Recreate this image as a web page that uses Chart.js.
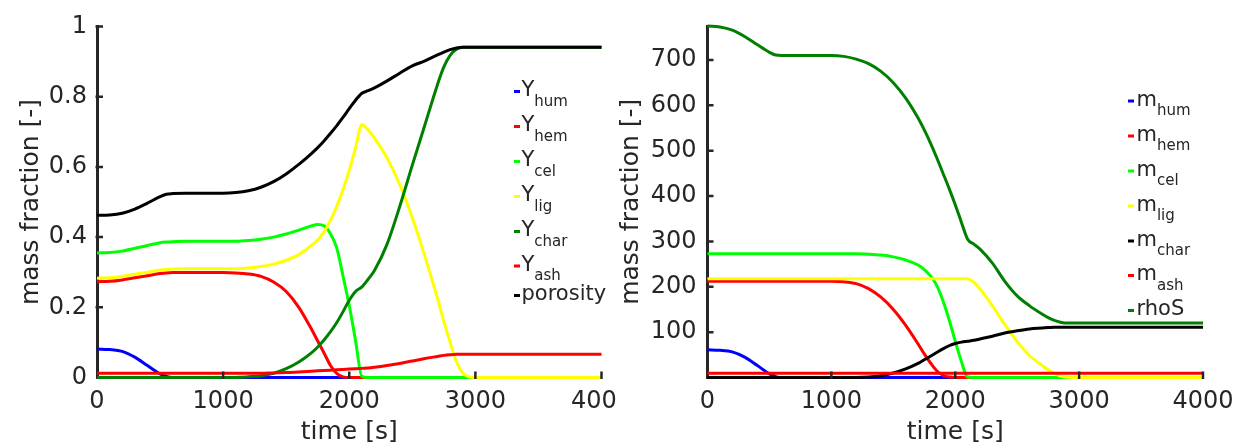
<!DOCTYPE html>
<html><head><meta charset="utf-8">
<script src="https://cdn.jsdelivr.net/npm/chart.js@4.4.0/dist/chart.umd.min.js"></script>
<style>
html,body{margin:0;padding:0;background:#fff;overflow:hidden;}
#wrap{position:relative;width:1239px;height:445px;background:#fff;}
.box{position:absolute;top:0;height:445px;}
</style></head><body>
<div id="wrap">
<div class="box" style="left:0;width:616px"><canvas id="c1" width="616" height="445"></canvas></div>
<div class="box" style="left:616px;width:623px"><canvas id="c2" width="623" height="445"></canvas></div>
</div>
<script>
// ---------- data ----------
const time = [0,100,200,300,400,500,550,600,700,800,900,1000,1100,1200,1300,1400,1500,1600,1700,1750,1800,1850,1900,1950,2000,2050,2100,2150,2200,2300,2400,2500,2600,2700,2750,2800,2850,2900,2950,3000,3500,4000];

// left panel: mass fractions
const Y_hum = [0.081,0.0795,0.0745,0.058,0.034,0.01,0.003,0,0,0,0,0,0,0,0,0,0,0,0,0,0,0,0,0,0,0,0,0,0,0,0,0,0,0,0,0,0,0,0,0,0,0];
const Y_hem = [0.273,0.274,0.278,0.284,0.29,0.296,0.298,0.299,0.299,0.299,0.299,0.299,0.298,0.295,0.288,0.272,0.245,0.2,0.138,0.104,0.07,0.035,0.012,0.002,0,0,0,0,0,0,0,0,0,0,0,0,0,0,0,0,0,0];
const Y_cel = [0.355,0.356,0.36,0.368,0.376,0.384,0.386,0.387,0.388,0.388,0.388,0.388,0.388,0.39,0.394,0.4,0.409,0.42,0.432,0.436,0.432,0.41,0.37,0.29,0.205,0.105,0.003,0,0,0,0,0,0,0,0,0,0,0,0,0,0,0];
const Y_lig = [0.283,0.284,0.288,0.294,0.3,0.306,0.308,0.309,0.31,0.31,0.31,0.31,0.31,0.312,0.316,0.323,0.334,0.35,0.376,0.392,0.415,0.447,0.487,0.535,0.59,0.655,0.72,0.705,0.682,0.625,0.55,0.455,0.345,0.225,0.16,0.1,0.045,0.013,0.002,0,0,0];
const Y_char = [0,0,0,0,0,0,0,0,0,0,0,0,0,0.002,0.005,0.012,0.025,0.044,0.07,0.087,0.107,0.13,0.156,0.187,0.22,0.245,0.258,0.28,0.305,0.38,0.487,0.605,0.72,0.835,0.885,0.918,0.935,0.941,0.941,0.941,0.941,0.941];
const Y_ash = [0.012,0.012,0.012,0.012,0.012,0.012,0.012,0.012,0.012,0.012,0.012,0.012,0.012,0.012,0.012,0.013,0.014,0.016,0.018,0.019,0.02,0.021,0.022,0.023,0.024,0.025,0.026,0.027,0.029,0.034,0.04,0.047,0.054,0.06,0.063,0.065,0.066,0.066,0.066,0.066,0.066,0.066];
const porosity = [0.462,0.463,0.468,0.48,0.497,0.515,0.522,0.524,0.525,0.525,0.525,0.525,0.527,0.532,0.542,0.558,0.58,0.607,0.638,0.655,0.674,0.695,0.717,0.741,0.766,0.79,0.81,0.817,0.825,0.845,0.867,0.888,0.902,0.919,0.927,0.934,0.939,0.941,0.941,0.941,0.941,0.941];

// right panel: masses
const m_hum = [61,60,56.5,45,27,8,2,0,0,0,0,0,0,0,0,0,0,0,0,0,0,0,0,0,0,0,0,0,0,0,0,0,0,0,0,0,0,0,0,0,0,0];
const m_hem = [212,212,212,212,212,212,212,212,212,212,212,212,211,207,196,177,150,115,74,52,32,15,5,1,0,0,0,0,0,0,0,0,0,0,0,0,0,0,0,0,0,0];
const m_cel = [273,273,273,273,273,273,273,273,273,273,273,273,273,273,272,270,266,259,248,238,224,203,170,128,80,35,1,0,0,0,0,0,0,0,0,0,0,0,0,0,0,0];
const m_lig = [218,218,218,218,218,218,218,218,218,218,218,218,218,218,218,218,218,218,218,218,218,218,218,218,218,218,218,210,195,158,117,79,48,27,17,9,3,1,0,0,0,0];
const m_char = [0,0,0,0,0,0,0,0,0,0,0,0,0,0,1,4,10,19,31,39,47,55,63,70,75,78,80,82,85,91,98,103,107,109,110,111,111,111,111,111,111,111];
const m_ash = [9.5,9.5,9.5,9.5,9.5,9.5,9.5,9.5,9.5,9.5,9.5,9.5,9.5,9.5,9.5,9.5,9.5,9.5,9.5,9.5,9.5,9.5,9.5,9.5,9.5,9.5,9.5,9.5,9.5,9.5,9.5,9.5,9.5,9.5,9.5,9.5,9.5,9.5,9.5,9.5,9.5,9.5];
const rhoS = [775,773,766,752,734,717,711,710,710,710,710,710,708,702,692,675,650,616,572,546,517,485,451,417,381,342,305,294,283,252,212,180,158,140,132,126,122,120,120,120,120,120];

// labels
const leftMain = ['Y','Y','Y','Y','Y','Y','porosity'];
const leftSub = ['hum','hem','cel','lig','char','ash',''];
const rightMain = ['m','m','m','m','m','m','rhoS'];
const rightSub = ['hum','hem','cel','lig','char','ash',''];
const xTitle = 'time [s]';
const yTitle = 'mass fraction [-]';

// ---------- styling ----------
const leftColors = ['#0000ff','#ff0000','#00ff00','#ffff00','#008000','#ff0000','#000000'];
const rightColors = ['#0000ff','#ff0000','#00ff00','#ffff00','#000000','#ff0000','#008000'];
const INK = '#262626';
const FONT = "'DejaVu Sans'";

function toPts(vals){ return time.map((t,i)=>({x:t,y:vals[i]})); }

function makeDatasets(series, colors){
  return series.map((s,i)=>({
    data: toPts(s), borderColor: colors[i], backgroundColor: colors[i],
    borderWidth: 3, pointRadius: 0, cubicInterpolationMode: 'monotone',
    clip: false, order: series.length - i
  }));
}

const inwardTicks = {
  id: 'inwardTicks',
  afterDatasetsDraw(chart){
    const {ctx, chartArea:a} = chart; const x = chart.scales.x, y = chart.scales.y;
    ctx.save(); ctx.strokeStyle = INK; ctx.lineWidth = 2.5; ctx.beginPath();
    x.ticks.forEach(t=>{ if(t.value===0) return; const px=x.getPixelForValue(t.value); ctx.moveTo(px,a.bottom+1.5); ctx.lineTo(px,a.bottom-6); });
    y.ticks.forEach(t=>{ if(t.value===0) return; const py=y.getPixelForValue(t.value); ctx.moveTo(a.left-1.5,py); ctx.lineTo(a.left+6,py); });
    ctx.stroke(); ctx.restore();
  }
};

const subLegend = {
  id: 'subLegend',
  afterDraw(chart, args, opts){
    const ctx = chart.ctx; ctx.save();
    ctx.textAlign = 'left'; ctx.textBaseline = 'alphabetic';
    opts.main.forEach((m,i)=>{
      const b = opts.baselines[i];
      ctx.fillStyle = opts.colors[i];
      ctx.fillRect(opts.markerX, b-6, 6, 3);
      ctx.fillStyle = INK;
      ctx.font = '21px ' + FONT;
      ctx.fillText(m, opts.textX, b);
      const w = ctx.measureText(m).width;
      if (opts.sub[i]) { ctx.font = '15px ' + FONT; ctx.fillText(opts.sub[i], opts.textX + w, b + 9.5); }
    });
    ctx.restore();
  }
};

function makeOptions(cfg){
  return {
    responsive:false, maintainAspectRatio:false, animation:false,
    layout:{padding:{left:0, right:cfg.padRight, top:cfg.padTop, bottom:0}},
    plugins:{legend:{display:false}, tooltip:{enabled:false}, subLegend:cfg.legend},
    scales:{
      x:{type:'linear', min:0, max:4000,
        grid:{display:false, drawTicks:false}, border:{display:true, color:INK, width:3},
        ticks:{stepSize:1000, autoSkip:false, maxRotation:0, color:INK, padding:10, font:{family:'DejaVu Sans', size:24},
          callback:function(v){ return String(v); }},
        title:{display:true, text:xTitle, color:INK, font:{family:'DejaVu Sans', size:25, lineHeight:1}, padding:{top:0,bottom:0}},
        afterFit(s){ s.height = cfg.xH; s.paddingLeft=0; s.paddingRight=0; s.paddingTop=0; s.paddingBottom=0; }
      },
      y:{type:'linear', min:0, max:cfg.yMax,
        grid:{display:false, drawTicks:false}, border:{display:true, color:INK, width:3},
        ticks:{stepSize:cfg.yStep, includeBounds:false, autoSkip:false, color:INK, padding:cfg.yPad, font:{family:'DejaVu Sans', size:24},
          callback:cfg.yCb},
        title:{display:true, text:yTitle, color:INK, font:{family:'DejaVu Sans', size:25, lineHeight:1}, padding:{top:cfg.yTitlePad,bottom:0}},
        afterFit(s){ s.width = cfg.yW; s.paddingLeft=0; s.paddingRight=0; s.paddingTop=0; s.paddingBottom=0; }
      }
    }
  };
}

new Chart(document.getElementById('c1'), {
  type:'line',
  data:{datasets: makeDatasets([Y_hum,Y_hem,Y_cel,Y_lig,Y_char,Y_ash,porosity], leftColors)},
  options: makeOptions({padRight:14.5, padTop:26.5, xH:67.5, yW:97, yMax:1, yStep:0.2, yPad:10, yTitlePad:18.5,
    yCb:function(v){ return String(Math.round(v*10)/10); },
    legend:{main:leftMain, sub:leftSub, colors:leftColors, markerX:514, textX:521.5, baselines:[96,131,166,201,236,270.5,300]}}),
  plugins:[inwardTicks, subLegend]
});

new Chart(document.getElementById('c2'), {
  type:'line',
  data:{datasets: makeDatasets([m_hum,m_hem,m_cel,m_lig,m_char,m_ash,rhoS], rightColors)},
  options: makeOptions({padRight:36, padTop:26, xH:67.5, yW:91.5, yMax:775, yStep:100, yPad:11, yTitlePad:3,
    yCb:function(v){ return v===0 ? '' : String(v); },
    legend:{main:rightMain, sub:rightSub, colors:rightColors, markerX:512, textX:520.5, baselines:[105.5,140.5,175.5,210.5,245.5,280,315]}}),
  plugins:[inwardTicks, subLegend]
});
</script>
</body></html>
